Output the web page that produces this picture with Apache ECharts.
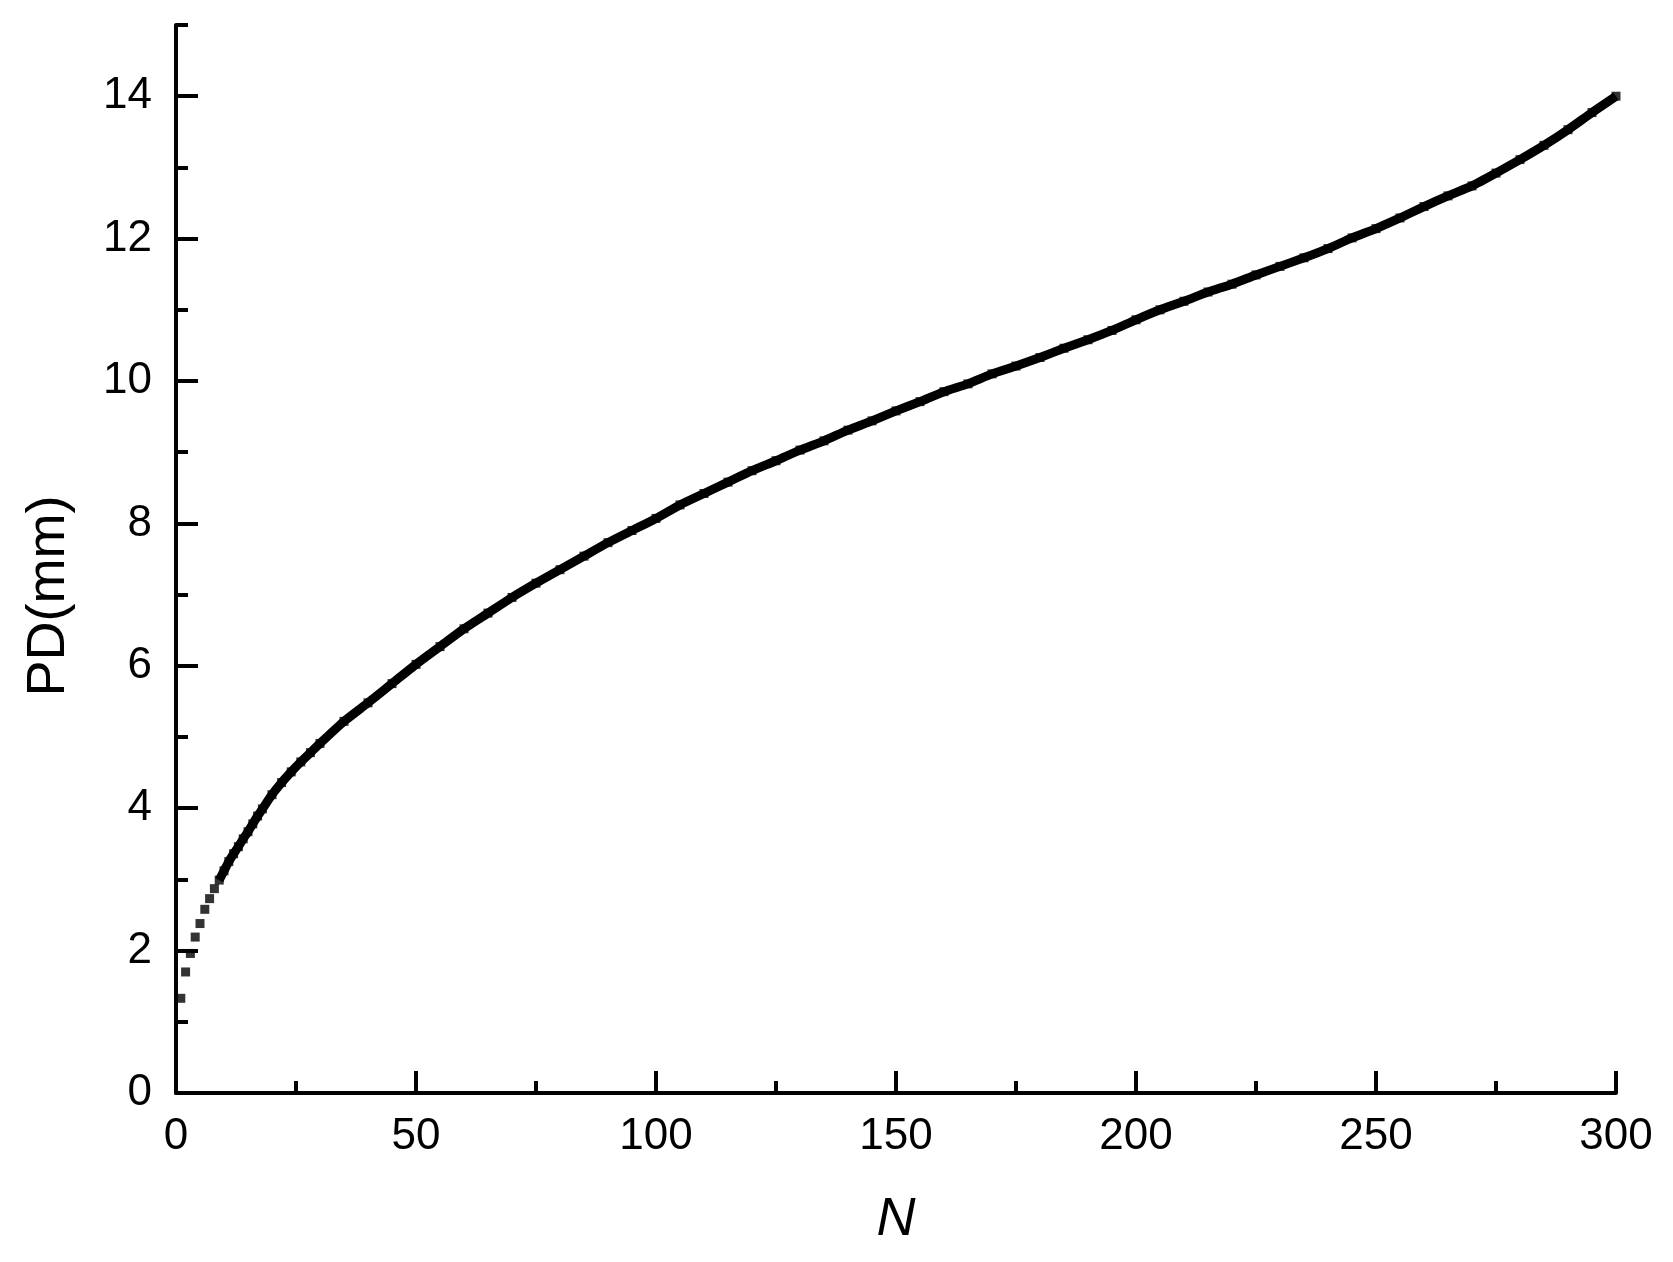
<!DOCTYPE html>
<html>
<head>
<meta charset="utf-8">
<script src="https://cdn.jsdelivr.net/npm/echarts@6/dist/echarts.min.js"></script>
<style>
html,body{margin:0;padding:0;background:#fff;}
#chart{width:1673px;height:1262px;}
</style>
</head>
<body>
<div id="chart"></div>
<script>
// Cycle number N and permanent deformation PD (mm)
const N = [1,2,3,4,5,6,7,8,9,10,11,12,13,14,15,16,17,18,20,22,24,26,28,30,35,40,45,50,55,60,65,70,75,80,85,90,95,100,
  105,110,115,120,125,130,135,140,145,150,155,160,165,170,175,180,185,190,195,200,
  205,210,215,220,225,230,235,240,245,250,255,260,265,270,275,280,285,290,295,300];
const PD = [1.33,1.70,1.96,2.19,2.38,2.58,2.73,2.87,2.99,3.12,3.25,3.36,3.46,3.57,3.67,3.78,3.89,3.99,4.19,4.36,4.51,4.65,4.78,4.91,5.22,5.48,5.75,6.02,
  6.27,6.52,6.74,6.96,7.16,7.35,7.54,7.73,7.90,8.07,
  8.26,8.42,8.58,8.74,8.88,9.03,9.16,9.31,9.44,9.58,9.71,9.85,9.96,10.10,10.21,10.33,10.46,10.58,10.71,10.86,
  11.00,11.12,11.25,11.36,11.49,11.61,11.73,11.86,12.01,12.14,12.29,12.45,12.60,12.74,12.92,13.11,13.31,13.53,13.77,14.00];
const yMajorTicks = [0,2,4,6,8,10,12,14];
const xTitle = 'N';
const yTitle = 'PD(mm)';

const FONT = '"Liberation Sans", Arial, sans-serif';
const points = N.map((n, i) => [n, PD[i]]);
const joined = points.filter(p => p[0] >= 9);

const chart = echarts.init(document.getElementById('chart'), null, {renderer: 'canvas'});
chart.setOption({
  animation: false,
  backgroundColor: '#ffffff',
  grid: {left: 176, right: 57, top: 25, bottom: 169, containLabel: false},
  xAxis: {
    type: 'value', min: 0, max: 300, interval: 50,
    name: xTitle, nameLocation: 'middle', nameGap: 100,
    nameTextStyle: {fontFamily: FONT, fontSize: 54, fontStyle: 'italic', color: '#000'},
    axisLine: {show: true, onZero: false, lineStyle: {color: '#000', width: 4}},
    axisTick: {show: true, inside: true, length: 22, lineStyle: {color: '#000', width: 4}},
    minorTick: {show: true, splitNumber: 2, length: 12, lineStyle: {color: '#000', width: 4}},
    axisLabel: {fontFamily: FONT, fontSize: 44, color: '#000', margin: 22},
    splitLine: {show: false}, minorSplitLine: {show: false}
  },
  yAxis: [{
    type: 'value', min: 0, max: 15, interval: 1, position: 'left',
    axisLine: {show: true, onZero: false, lineStyle: {color: '#000', width: 4}},
    axisTick: {show: true, inside: true, length: 12, lineStyle: {color: '#000', width: 4}},
    axisLabel: {fontFamily: FONT, fontSize: 44, color: '#000', margin: 24,
      formatter: v => (yMajorTicks.indexOf(v) >= 0 ? String(v) : '')},
    splitLine: {show: false}
  }, {
    type: 'value', min: 0, max: 15, interval: 1, position: 'left', offset: 0,
    axisLine: {show: false},
    axisTick: {show: true, inside: true, length: 22, customValues: yMajorTicks,
      lineStyle: {color: '#000', width: 4}},
    axisLabel: {show: false},
    splitLine: {show: false}
  }],
  graphic: [{
    type: 'text', x: 49, y: 596, rotation: Math.PI / 2,
    style: {text: yTitle, font: '54px ' + FONT, fill: '#000', align: 'center', verticalAlign: 'middle'}
  }],
  series: [{
    type: 'line', data: joined, showSymbol: false, symbol: 'none', smooth: 0.2,
    lineStyle: {color: '#000', width: 9}, z: 2
  }, {
    type: 'scatter', data: points, symbol: 'rect', symbolSize: 9,
    itemStyle: {color: '#000'}, z: 3
  }]
});
</script>
</body>
</html>
